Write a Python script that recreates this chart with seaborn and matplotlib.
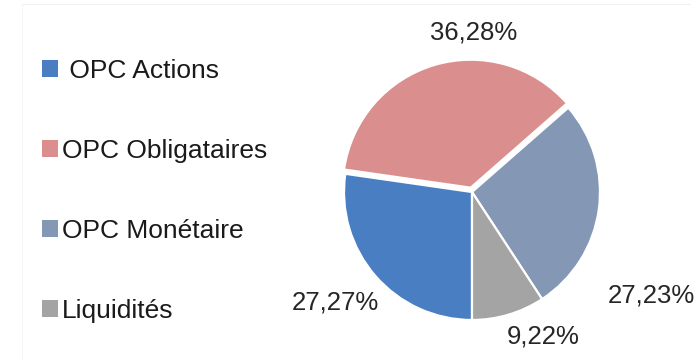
import matplotlib
matplotlib.use("Agg")
import matplotlib.pyplot as plt
from matplotlib.patches import Patch
from matplotlib.lines import Line2D
import seaborn as sns

sns.set_theme(style="white")
plt.rcParams["font.family"] = ["Liberation Sans", "DejaVu Sans"]

# Portfolio allocation (%)
categories = [" OPC Actions", "OPC Obligataires", "OPC Monétaire", "Liquidités"]
shares = [27.27, 36.28, 27.23, 9.22]
colors = ["#4A7EC3", "#DB8E8E", "#8497B5", "#A4A4A4"]
explode = [0.0, 0.035, 0.0, 0.0]

# Label anchor points in pie-radius units
label_pos = [(-1.07, -0.86), (0.016, 1.246), (1.40, -0.81), (0.56, -1.13)]

W, H, DPI = 699, 360, 100
fig = plt.figure(figsize=(W / DPI, H / DPI), dpi=DPI)
fig.patch.set_facecolor("white")
ax = fig.add_axes([0, 0, 1, 1])

wedges, texts = ax.pie(
    shares,
    labels=[f"{v:.2f}".replace(".", ",") + "%" for v in shares],
    colors=colors,
    explode=explode,
    startangle=-90,
    counterclock=False,
    radius=1.0,
    wedgeprops=dict(edgecolor="white", linewidth=1.6),
    textprops=dict(fontsize=18.5, color="#262626"),
)
for t, (x, y) in zip(texts, label_pos):
    t.set_position((x, y))
    t.set_ha("center")
    t.set_va("center")

# pie centre at pixel (472, 192 from top), radius 128 px
cx, cy, r = 472, 192, 128
ax.set_xlim(-cx / r, (W - cx) / r)
ax.set_ylim(-(H - cy) / r, cy / r)
ax.set_aspect("auto")
ax.axis("off")

# faint frame lines
fig.add_artist(Line2D([22 / W, 690 / W], [1 - 4 / H, 1 - 4 / H],
                      color="#f2f2f2", lw=0.8, transform=fig.transFigure))
fig.add_artist(Line2D([22 / W, 22 / W], [0, 1 - 4 / H],
                      color="#f6f6f6", lw=0.8, transform=fig.transFigure))

handles = [Patch(facecolor=c, edgecolor="none") for c in colors]
leg = fig.legend(
    handles, categories,
    loc="upper left", bbox_to_anchor=(42 / W, 1 - 59 / H),
    frameon=False, fontsize=19,
    handlelength=0.62, handleheight=0.62, handletextpad=0.12,
    labelspacing=2.12, borderaxespad=0, borderpad=0,
)
for t in leg.get_texts():
    t.set_color("#1a1a1a")

fig.savefig("out.png", dpi=DPI, facecolor="white")
